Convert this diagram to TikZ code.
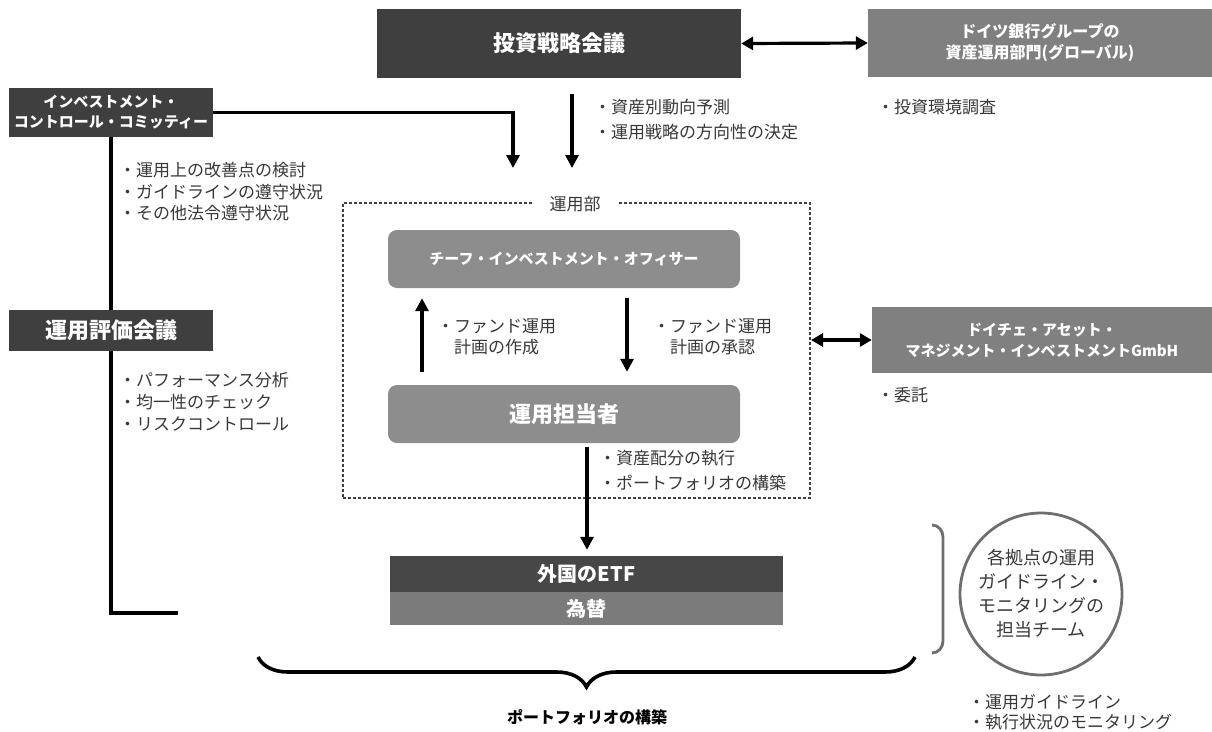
\documentclass[tikz,border=0pt]{standalone}
\usepackage{fontspec}
\setmainfont{Noto Sans CJK JP}
\usetikzlibrary{arrows.meta,decorations.pathreplacing}
\definecolor{boxdark}{HTML}{3F3F3F}
\definecolor{boxmid}{HTML}{808080}
\definecolor{boxsoft}{HTML}{8D8D8D}
\definecolor{etfdark}{HTML}{474747}
\definecolor{etfmid}{HTML}{7B7B7B}
\definecolor{notegray}{HTML}{383838}
\definecolor{dashgray}{HTML}{404040}
\definecolor{circlegray}{HTML}{6E6E6E}
\newcommand\fsz[2]{\fontsize{#1}{#2}\selectfont}
\begin{document}
\begin{tikzpicture}[x=1pt,y=-1pt,
  box/.style={text=white,font=\bfseries,align=center,inner sep=0pt},
  dark/.style={box,fill=boxdark},
  mid/.style={box,fill=boxmid},
  soft/.style={box,fill=boxsoft,rounded corners=9pt},
  note/.style={anchor=west,align=left,text=notegray,inner sep=0pt},
  arr/.style={line width=3.2pt,-{Triangle[length=13pt,width=13pt]}},
  dbl/.style={line width=3.2pt,{Triangle[length=12pt,width=13pt]}-{Triangle[length=12pt,width=13pt]}},
  link/.style={line width=3.2pt}]
\useasboundingbox (0,0) rectangle (1212,731);
% top row
\node[dark,minimum width=364pt,minimum height=69pt,font=\bfseries\fsz{22}{26}] (strat) at (559,43.5) {投資戦略会議};
\node[mid,minimum width=344pt,minimum height=68pt,font=\bfseries\fsz{16}{21}] (dbgroup) at (1040,43) {ドイツ銀行グループの\\資産運用部門(グローバル)};
\node[note,font=\fsz{17}{25}] (stratnotes) at (594,120) {・資産別動向予測\\・運用戦略の方向性の決定};
\node[note,font=\fsz{17}{21}] (dbnotes) at (877,107) {・投資環境調査};
% left column
\node[dark,minimum width=204pt,minimum height=49pt,font=\bfseries\fsz{15}{20}] (icc) at (111,112.5) {インベストメント・\\コントロール・コミッティー};
\node[note,font=\fsz{17}{21.5}] (iccnotes) at (119,192) {・運用上の改善点の検討\\・ガイドラインの遵守状況\\・その他法令遵守状況};
\node[dark,minimum width=204pt,minimum height=41pt,font=\bfseries\fsz{22}{26}] (review) at (111,330.5) {運用評価会議};
\node[note,font=\fsz{17}{22}] (reviewnotes) at (119,402) {・パフォーマンス分析\\・均一性のチェック\\・リスクコントロール};
% Unyo-bu
\node[draw=dashgray,line width=2pt,dash pattern=on 3pt off 2pt,minimum width=467pt,minimum height=295pt,inner sep=0pt] (dept) at (576.5,350.5) {};
\node[fill=white,inner xsep=18pt,inner ysep=2pt,text=notegray,font=\fsz{17}{20}] (deptlabel) at (575,204) {運用部};
\node[soft,minimum width=352pt,minimum height=58pt,font=\bfseries\fsz{15}{18}] (chief) at (564,259) {チーフ・インベストメント・オフィサー};
\node[soft,minimum width=352pt,minimum height=58pt,font=\bfseries\fsz{22}{26}] (staff) at (564,414) {運用担当者};
\node[note,font=\fsz{17}{21}] (plannotes) at (437,337) {・ファンド運用\\\hspace{17pt}計画の作成};
\node[note,font=\fsz{17}{21}] (approvenotes) at (653,337) {・ファンド運用\\\hspace{17pt}計画の承認};
\node[note,font=\fsz{17}{25}] (execnotes) at (599,471) {・資産配分の執行\\・ポートフォリオの構築};
% right column
\node[mid,minimum width=340pt,minimum height=66pt,font=\bfseries\fsz{15}{21}] (dam) at (1042,340) {ドイチェ・アセット・\\マネジメント・インベストメントGmbH};
\node[note,font=\fsz{17}{21}] (damnotes) at (877,395) {・委託};
% portfolio
\node[fill=etfdark,box,minimum width=393pt,minimum height=36pt,font=\bfseries\fsz{20}{24}] (etf) at (586.5,574) {外国のETF};
\node[fill=etfmid,box,minimum width=393pt,minimum height=33pt,font=\bfseries\fsz{20}{24}] (fx) at (586.5,608.5) {為替};
\node[font=\bfseries\fsz{16}{20},text=black] (portlabel) at (587,717) {ポートフォリオの構築};
\node[circle,draw=circlegray,line width=2.8pt,minimum size=162pt,inner sep=0pt,align=center,text=notegray,font=\fsz{18}{24}] (team) at (1041,594) {各拠点の運用\\ガイドライン・\\モニタリングの\\担当チーム};
\node[note,font=\fsz{17}{20}] (teamnotes) at (968,712) {・運用ガイドライン\\・執行状況のモニタリング};
% free ends
\coordinate (iccend) at (513,168);
\coordinate (stratend) at (572,168);
\coordinate (reviewend) at (178,613);
\coordinate (bracer) at (915,657);
\coordinate (bracel) at (258,657);
\coordinate (brackettop) at (932,525);
\coordinate (bracketbot) at (932,653);
% connectors
\draw[dbl] (strat.east) -- (dbgroup.west);
\draw[arr,shorten <=16pt] (strat.south -| stratend) -- (stratend);
\draw[arr] (icc.east) -| (iccend);
\draw[link] (icc.south) -- (review.north);
\draw[link] (review.south) |- (reviewend);
\draw[arr,shorten <=13pt,shorten >=10pt] ([xshift=-142pt]staff.north) -- ([xshift=-142pt]chief.south);
\draw[arr,shorten <=10pt,shorten >=13pt] ([xshift=63pt]chief.south) -- ([xshift=63pt]staff.north);
\draw[arr,shorten <=4pt,shorten >=6pt] ([xshift=23pt]staff.south) -- ([xshift=0.5pt]etf.north);
\draw[dbl] (dept.east |- dam.west) -- (dam.west);
\draw[decorate,decoration={brace,amplitude=30pt},line width=3.6pt] (bracer) -- (bracel);
\draw[circlegray,line width=2.8pt] (brackettop) to[out=0,in=90] ++(11,12) -- ++(0,104) to[out=-90,in=0] (bracketbot);
\end{tikzpicture}
\end{document}
